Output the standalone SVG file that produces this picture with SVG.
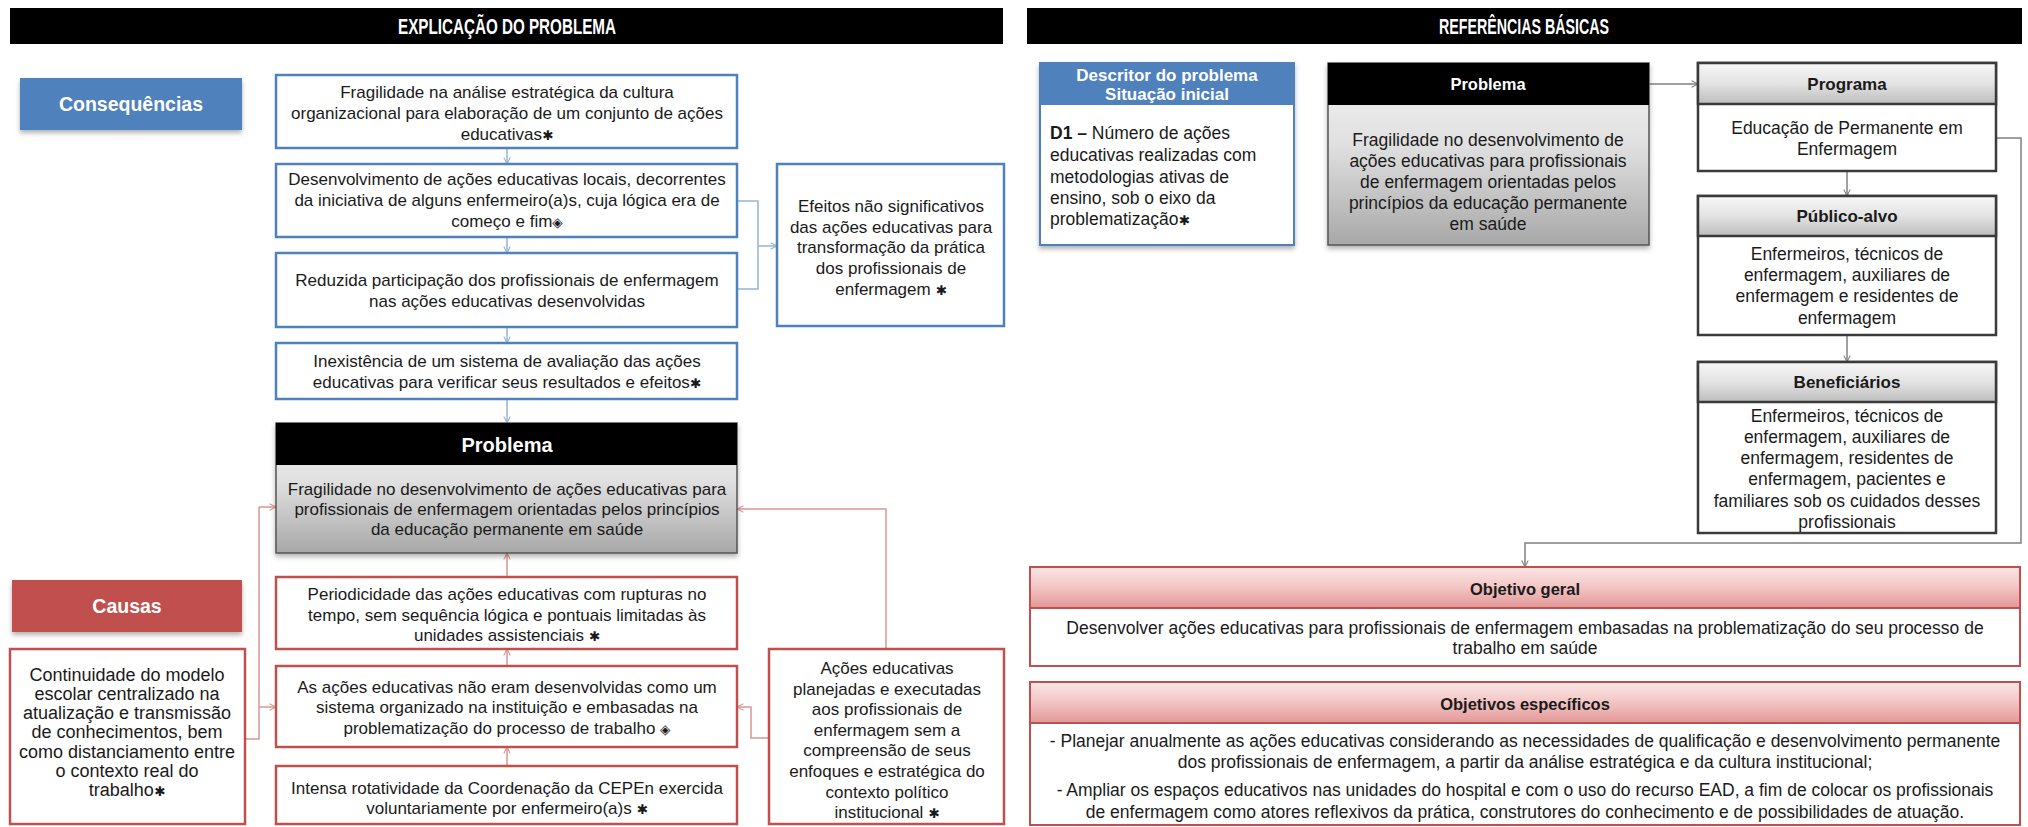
<svg xmlns="http://www.w3.org/2000/svg" width="2028" height="827" viewBox="0 0 2028 827">
<defs>
<style>
.t{font-family:"Liberation Sans",Arial,"DejaVu Sans",sans-serif;font-size:17px;fill:#1a1a1a;text-anchor:middle}
.r{font-size:17.5px}
.l{text-anchor:start}
.b{font-weight:bold}
.w{fill:#fff}
.s{font-family:"DejaVu Sans",sans-serif;font-size:13.5px}
.hd{font-family:"Liberation Sans",Arial,sans-serif;font-weight:bold;font-size:22px;fill:#fff;text-anchor:middle}
.bluebox{fill:#fff;stroke:#4F81BD;stroke-width:2.5}
.redbox{fill:#fff;stroke:#C0504D;stroke-width:2.5}
.graybox{fill:#fff;stroke:#3a3a3a;stroke-width:2.5}
.cb{fill:none;stroke:#95B3D7;stroke-width:1.5}
.cr{fill:none;stroke:#D99694;stroke-width:1.5}
.cg{fill:none;stroke:#808080;stroke-width:1.5}
</style>
<linearGradient id="gProb" x1="0" y1="0" x2="0" y2="1"><stop offset="0" stop-color="#F4F4F4"/><stop offset="0.45" stop-color="#E0E0E0"/><stop offset="1" stop-color="#A8A8A8"/></linearGradient>
<linearGradient id="gHead" x1="0" y1="0" x2="0" y2="1"><stop offset="0" stop-color="#F7F7F7"/><stop offset="0.5" stop-color="#E3E3E3"/><stop offset="1" stop-color="#BDBDBD"/></linearGradient>
<linearGradient id="gPink" x1="0" y1="0" x2="0" y2="1"><stop offset="0" stop-color="#FBE6E6"/><stop offset="0.45" stop-color="#F4C8C8"/><stop offset="1" stop-color="#E29897"/></linearGradient>
<filter id="sh" x="-10%" y="-20%" width="120%" height="150%"><feDropShadow dx="0" dy="3" stdDeviation="2.5" flood-color="#000" flood-opacity="0.3"/></filter>
<marker id="ab" viewBox="0 0 10 10" refX="9" refY="5" markerWidth="8" markerHeight="8" orient="auto" markerUnits="userSpaceOnUse"><path d="M1,1 L9,5 L1,9" fill="none" stroke="#95B3D7" stroke-width="1.3"/></marker>
<marker id="ar" viewBox="0 0 10 10" refX="9" refY="5" markerWidth="8" markerHeight="8" orient="auto" markerUnits="userSpaceOnUse"><path d="M1,1 L9,5 L1,9" fill="none" stroke="#D99694" stroke-width="1.3"/></marker>
<marker id="ag" viewBox="0 0 10 10" refX="9" refY="5" markerWidth="8" markerHeight="8" orient="auto" markerUnits="userSpaceOnUse"><path d="M1,1 L9,5 L1,9" fill="none" stroke="#808080" stroke-width="1.3"/></marker>
</defs>
<rect width="2028" height="827" fill="#fff"/>

<g id="header-left">
<rect x="10" y="8" width="993" height="36" fill="#000"/>
<text class="hd" x="507" y="34" textLength="218" lengthAdjust="spacingAndGlyphs">EXPLICAÇÃO DO PROBLEMA</text>
</g>
<g id="header-right">
<rect x="1027" y="8" width="995" height="36" fill="#000"/>
<text class="hd" x="1524" y="34" textLength="170" lengthAdjust="spacingAndGlyphs">REFERÊNCIAS BÁSICAS</text>
</g>

<g id="connectors">
<line class="cb" x1="507" y1="148" x2="507" y2="164" marker-end="url(#ab)"/>
<line class="cb" x1="507" y1="237" x2="507" y2="253" marker-end="url(#ab)"/>
<line class="cb" x1="507" y1="327" x2="507" y2="343" marker-end="url(#ab)"/>
<line class="cb" x1="507" y1="399" x2="507" y2="423" marker-end="url(#ab)"/>
<path class="cb" d="M737,201 H758 V289 H737"/>
<line class="cb" x1="758" y1="246" x2="777" y2="246" marker-end="url(#ab)"/>
<line class="cr" x1="507" y1="577" x2="507" y2="553" marker-end="url(#ar)"/>
<line class="cr" x1="507" y1="666" x2="507" y2="649" marker-end="url(#ar)"/>
<line class="cr" x1="507" y1="766" x2="507" y2="747" marker-end="url(#ar)"/>
<path class="cr" d="M245,739 H259 V507"/>
<line class="cr" x1="259" y1="507" x2="276" y2="507" marker-end="url(#ar)"/>
<line class="cr" x1="259" y1="707" x2="276" y2="707" marker-end="url(#ar)"/>
<path class="cr" d="M886,649 V509 H737" marker-end="url(#ar)"/>
<path class="cr" d="M769,738 H751 V707 H737" marker-end="url(#ar)"/>
<line class="cg" x1="1649" y1="84" x2="1698" y2="84" marker-end="url(#ag)"/>
<line class="cg" x1="1847" y1="171" x2="1847" y2="196" marker-end="url(#ag)"/>
<line class="cg" x1="1847" y1="335" x2="1847" y2="362" marker-end="url(#ag)"/>
<path class="cg" d="M1996,138 H2021 V543 H1525 V567" marker-end="url(#ag)"/>
</g>

<g id="consequencias">
<rect x="20" y="78" width="222" height="52" fill="#4F81BD" filter="url(#sh)"/>
<text class="t b w" x="131" y="111" style="font-size:19.5px">Consequências</text>
</g>

<g id="c1">
<rect class="bluebox" x="276" y="75" width="461" height="73"/>
<text class="t" x="507" y="98">Fragilidade na análise estratégica da cultura</text>
<text class="t" x="507" y="119">organizacional para elaboração de  um conjunto de ações</text>
<text class="t" x="507" y="140">educativas<tspan class="s">✱</tspan></text>
</g>
<g id="c2">
<rect class="bluebox" x="276" y="164" width="461" height="73"/>
<text class="t" x="507" y="185">Desenvolvimento de ações educativas locais, decorrentes</text>
<text class="t" x="507" y="206">da iniciativa de alguns enfermeiro(a)s, cuja lógica era de</text>
<text class="t" x="507" y="227">começo e fim<tspan class="s">◈</tspan></text>
</g>
<g id="c3">
<rect class="bluebox" x="276" y="253" width="461" height="74"/>
<text class="t" x="507" y="286">Reduzida participação dos profissionais de enfermagem</text>
<text class="t" x="507" y="307">nas ações educativas desenvolvidas</text>
</g>
<g id="c4">
<rect class="bluebox" x="276" y="343" width="461" height="56"/>
<text class="t" x="507" y="367">Inexistência de um sistema de avaliação das ações</text>
<text class="t" x="507" y="388">educativas para verificar  seus resultados e efeitos<tspan class="s">✱</tspan></text>
</g>
<g id="efeitos">
<rect class="bluebox" x="777" y="164" width="227" height="162"/>
<text class="t" x="891" y="212">Efeitos não significativos</text>
<text class="t" x="891" y="233">das ações educativas para</text>
<text class="t" x="891" y="253">transformação da prática</text>
<text class="t" x="891" y="274">dos profissionais de</text>
<text class="t" x="891" y="295">enfermagem  <tspan class="s">✱</tspan></text>
</g>

<g id="problema-left">
<g filter="url(#sh)">
<rect x="276" y="423" width="461" height="130" fill="url(#gProb)" stroke="#555" stroke-width="1.5"/>
<rect x="276" y="423" width="461" height="42" fill="#000"/>
</g>
<text class="t b w" x="507" y="452" style="font-size:20px">Problema</text>
<text class="t" x="507" y="495">Fragilidade no desenvolvimento de ações educativas para</text>
<text class="t" x="507" y="515">profissionais de enfermagem orientadas pelos princípios</text>
<text class="t" x="507" y="535">da educação permanente em saúde</text>
</g>

<g id="r1">
<rect class="redbox" x="276" y="577" width="461" height="72"/>
<text class="t" x="507" y="600">Periodicidade das ações educativas com rupturas no</text>
<text class="t" x="507" y="621">tempo, sem sequência lógica e pontuais limitadas às</text>
<text class="t" x="507" y="641">unidades assistenciais <tspan class="s">✱</tspan></text>
</g>
<g id="r2">
<rect class="redbox" x="276" y="666" width="461" height="81"/>
<text class="t" x="507" y="693">As ações educativas não eram desenvolvidas como um</text>
<text class="t" x="507" y="713">sistema organizado na instituição e embasadas na</text>
<text class="t" x="507" y="734">problematização do processo de trabalho <tspan class="s">◈</tspan></text>
</g>
<g id="r3">
<rect class="redbox" x="276" y="766" width="461" height="58"/>
<text class="t" x="507" y="794">Intensa rotatividade da Coordenação da CEPEn  exercida</text>
<text class="t" x="507" y="814">voluntariamente por enfermeiro(a)s <tspan class="s">✱</tspan></text>
</g>

<g id="causas">
<rect x="12" y="580" width="230" height="52" fill="#C0504D" filter="url(#sh)"/>
<text class="t b w" x="127" y="613" style="font-size:19.5px">Causas</text>
</g>
<g id="continuidade">
<rect class="redbox" x="10" y="649" width="235" height="175"/>
<text class="t" x="127" y="681" style="font-size:18px">Continuidade do modelo</text>
<text class="t" x="127" y="700" style="font-size:18px">escolar centralizado na</text>
<text class="t" x="127" y="719" style="font-size:18px">atualização e transmissão</text>
<text class="t" x="127" y="738" style="font-size:18px">de conhecimentos, bem</text>
<text class="t" x="127" y="758" style="font-size:18px">como distanciamento entre</text>
<text class="t" x="127" y="777" style="font-size:18px">o contexto  real do</text>
<text class="t" x="127" y="796" style="font-size:18px">trabalho<tspan class="s">✱</tspan></text>
</g>
<g id="acoes">
<rect class="redbox" x="769" y="649" width="235" height="175"/>
<text class="t" x="887" y="674">Ações educativas</text>
<text class="t" x="887" y="695">planejadas e executadas</text>
<text class="t" x="887" y="715">aos profissionais de</text>
<text class="t" x="887" y="736">enfermagem sem a</text>
<text class="t" x="887" y="756">compreensão de seus</text>
<text class="t" x="887" y="777">enfoques e estratégica do</text>
<text class="t" x="887" y="798">contexto  político</text>
<text class="t" x="887" y="818">institucional <tspan class="s">✱</tspan></text>
</g>

<g id="descritor">
<rect x="1040" y="63" width="254" height="182" fill="#fff" stroke="#4F81BD" stroke-width="2" filter="url(#sh)"/>
<rect x="1040" y="63" width="254" height="42" fill="#4F81BD"/>
<text class="t b w" x="1167" y="81" style="font-size:17px">Descritor do problema</text>
<text class="t b w" x="1167" y="100" style="font-size:17px">Situação inicial</text>
<text class="t r l" x="1050" y="139"><tspan class="b">D1 – </tspan>Número de ações</text>
<text class="t r l" x="1050" y="161">educativas realizadas com</text>
<text class="t r l" x="1050" y="183">metodologias ativas de</text>
<text class="t r l" x="1050" y="204">ensino, sob o eixo da</text>
<text class="t r l" x="1050" y="225">problematização<tspan class="s">✱</tspan></text>
</g>

<g id="problema-right">
<g filter="url(#sh)">
<rect x="1328" y="63" width="321" height="182" fill="url(#gProb)" stroke="#555" stroke-width="1.5"/>
<rect x="1328" y="63" width="321" height="42" fill="#000"/>
</g>
<text class="t b w" x="1488" y="90" style="font-size:16.5px">Problema</text>
<text class="t r" x="1488" y="146">Fragilidade no desenvolvimento de</text>
<text class="t r" x="1488" y="167">ações educativas para profissionais</text>
<text class="t r" x="1488" y="188">de enfermagem orientadas pelos</text>
<text class="t r" x="1488" y="209">princípios da educação permanente</text>
<text class="t r" x="1488" y="230">em saúde</text>
</g>

<g id="programa">
<rect class="graybox" x="1698" y="63" width="298" height="108"/>
<rect x="1698" y="63" width="298" height="41" fill="url(#gHead)" stroke="#3a3a3a" stroke-width="2.5"/>
<text class="t b" x="1847" y="90" style="font-size:17px">Programa</text>
<text class="t r" x="1847" y="134">Educação de Permanente em</text>
<text class="t r" x="1847" y="155">Enfermagem</text>
</g>
<g id="publico">
<rect class="graybox" x="1698" y="196" width="298" height="139"/>
<rect x="1698" y="196" width="298" height="40" fill="url(#gHead)" stroke="#3a3a3a" stroke-width="2.5"/>
<text class="t b" x="1847" y="222" style="font-size:17px">Público-alvo</text>
<text class="t r" x="1847" y="260">Enfermeiros, técnicos de</text>
<text class="t r" x="1847" y="281">enfermagem, auxiliares de</text>
<text class="t r" x="1847" y="302">enfermagem e residentes de</text>
<text class="t r" x="1847" y="324">enfermagem</text>
</g>
<g id="beneficiarios">
<rect class="graybox" x="1698" y="362" width="298" height="171"/>
<rect x="1698" y="362" width="298" height="40" fill="url(#gHead)" stroke="#3a3a3a" stroke-width="2.5"/>
<text class="t b" x="1847" y="388" style="font-size:17px">Beneficiários</text>
<text class="t r" x="1847" y="422">Enfermeiros, técnicos de</text>
<text class="t r" x="1847" y="443">enfermagem, auxiliares de</text>
<text class="t r" x="1847" y="464">enfermagem, residentes de</text>
<text class="t r" x="1847" y="485">enfermagem, pacientes e</text>
<text class="t r" x="1847" y="507">familiares sob os cuidados desses</text>
<text class="t r" x="1847" y="528">profissionais</text>
</g>

<g id="objetivo-geral">
<rect x="1030" y="567" width="990" height="99" fill="#fff" stroke="#C0504D" stroke-width="2"/>
<rect x="1030" y="567" width="990" height="41" fill="url(#gPink)" stroke="#C0504D" stroke-width="2"/>
<text class="t b" x="1525" y="595" style="font-size:16.5px">Objetivo geral</text>
<text class="t r" x="1525" y="634">Desenvolver ações educativas para profissionais de enfermagem embasadas na problematização do seu processo de</text>
<text class="t r" x="1525" y="654">trabalho em saúde</text>
</g>
<g id="objetivos-especificos">
<rect x="1030" y="682" width="990" height="143" fill="#fff" stroke="#C0504D" stroke-width="2"/>
<rect x="1030" y="682" width="990" height="41" fill="url(#gPink)" stroke="#C0504D" stroke-width="2"/>
<text class="t b" x="1525" y="710" style="font-size:16.5px">Objetivos específicos</text>
<text class="t r" x="1525" y="747">- Planejar anualmente as ações educativas considerando as necessidades de qualificação e desenvolvimento permanente</text>
<text class="t r" x="1525" y="768">dos profissionais de enfermagem, a partir da análise estratégica e da cultura institucional;</text>
<text class="t r" x="1525" y="796">- Ampliar os espaços educativos nas unidades do hospital e com o uso do recurso EAD, a fim de colocar os profissionais</text>
<text class="t r" x="1525" y="818">de enfermagem como atores reflexivos da prática, construtores do conhecimento e de possibilidades de atuação.</text>
</g>
</svg>
